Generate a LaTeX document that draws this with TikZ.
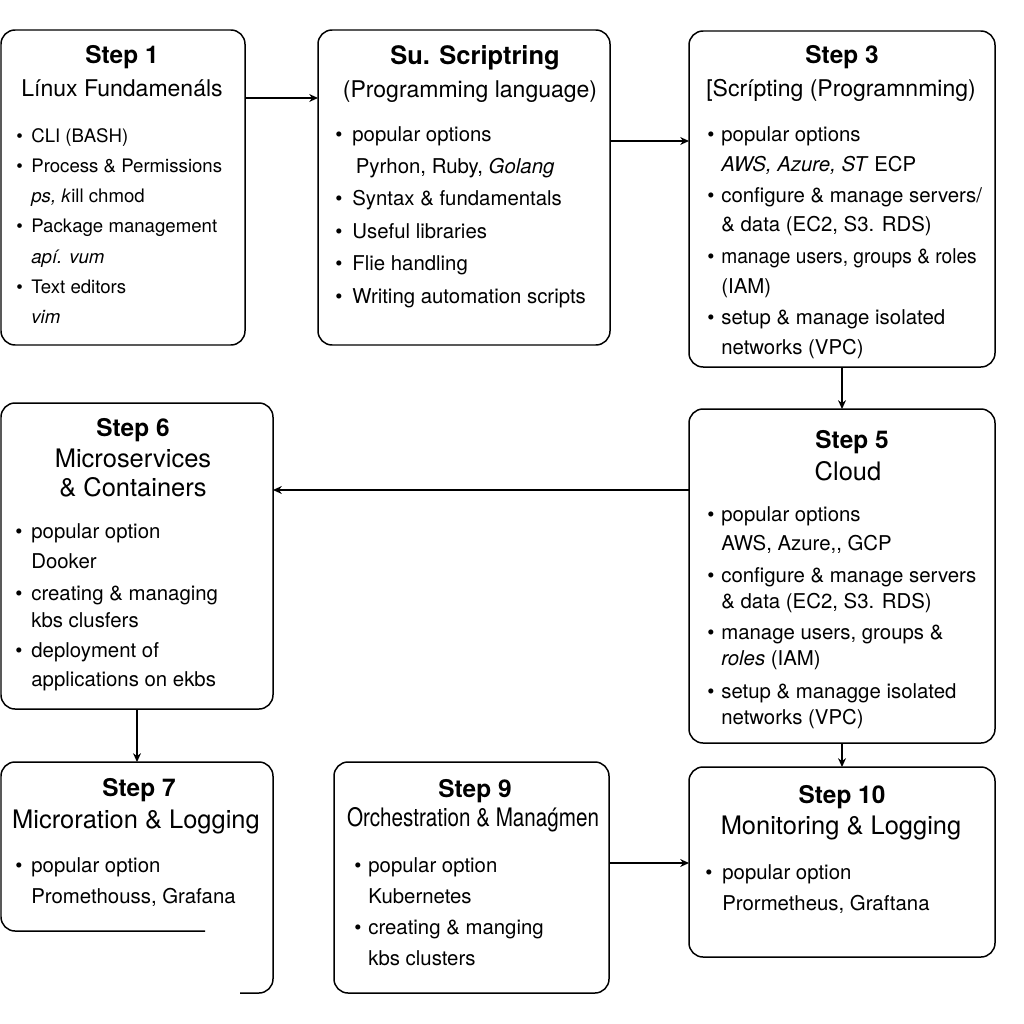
\documentclass[tikz,border=0pt]{standalone}
\usepackage{fontspec}
\setmainfont{TeX Gyre Heros}
\usetikzlibrary{positioning,fit,arrows.meta}

\newlength\px
\setlength\px{0.02cm}
\newcommand\bl[1][14\px]{\makebox[#1][l]{\textbullet}}

\tikzset{
  stepbox/.style={draw, line width=0.85pt, rounded corners=8pt, inner sep=0pt, outer sep=0pt},
  head/.style={anchor=base, inner sep=0pt, font=\bfseries\fontsize{13.9}{16}\selectfont},
  sub/.style={anchor=base, inner sep=0pt, font=\fontsize{14.5}{16}\selectfont},
  items/.style={anchor=base west, inner sep=0pt, font=\fontsize{11.6}{15}\selectfont},
  arr/.style={-{Stealth[length=5pt,width=4.5pt]}, line width=0.75pt}
}

\begin{document}
\begin{tikzpicture}[x=0.02cm, y=-0.02cm]
  \useasboundingbox (0,0) rectangle (1024,1024);

  % Step 1
  \node[stepbox, fit={(1,30) (245,345)}] (s1) {};
  \node[head] (s1h) at (122,64) {Step 1};
  \node[sub, font=\fontsize{13.1}{16}\selectfont] (s1s) at (122,96) {Línux Fundamenáls};
  \node[items, font=\fontsize{10.6}{17.25}\selectfont] (s1l) at (16,142) {\begin{tabular}[t]{@{}l@{}l@{}}
    \bl[15\px] & CLI (BASH)\\
    \bl & Process \& Permissions\\
    & \textit{ps, k}ill chmod\\
    \bl & Package management\\
    & \textit{apí. vum}\\
    \bl & Text editors\\
    & \textit{vim}
  \end{tabular}};

  % Step 2
  \node[stepbox, fit={(318,30) (610,345)}] (s2) {};
  \node[head, font=\bfseries\fontsize{14.5}{16}\selectfont] (s2h) at (475,65) {Su. Scriptring};
  \node[sub, font=\fontsize{13.1}{16}\selectfont] (s2s) at (470,97) {(Programming language)};
  \node[items, font=\fontsize{11.6}{18.45}\selectfont] (s2l) at (335,141) {\begin{tabular}[t]{@{}l@{}l@{}}
    \bl[17\px] & popular options\\
    & \hspace{2pt}Pyrhon, Ruby, \textit{Golang}\\
    \bl & Syntax \& fundamentals\\
    \bl & Useful libraries\\
    \bl & Flie handling\\
    \bl & Writing automation scripts
  \end{tabular}};

  % Step 3
  \node[stepbox, fit={(689,31) (995,367)}] (s3) {};
  \node[head] (s3h) at (842,64) {Step 3};
  \node[sub, font=\fontsize{13.1}{16}\selectfont] (s3s) at (841,96) {[Scrípting (Programnming)};
  \node[items, font=\fontsize{11.6}{16.85}\selectfont] (s3l) at (707,141) {\begin{tabular}[t]{@{}l@{}l@{}}
    \bl & popular options\\[0.5\px]
    & \textit{AWS, Azure,\ ST} ECP\\[1.5\px]
    \bl & configure \& manage servers/\\
    & \& data (EC2, S3. RDS)\\[2\px]
    \bl & \scalebox{0.94}[1]{manage users, groups \& roles}\\
    & (IAM)\\[2\px]
    \bl & setup \& manage isolated\\
    & networks (VPC)
  \end{tabular}};

  % Step 5
  \node[stepbox, fit={(689,409) (995,743)}] (s5) {};
  \node[head] (s5h) at (852,448) {Step 5};
  \node[sub] (s5s) at (848,480) {Cloud};
  \node[items] (s5l) at (707,521) {\begin{tabular}[t]{@{}l@{}l@{}}
    \bl & popular options\\[3\px]
    & AWS, Azure,{}, GCP\\[5.5\px]
    \bl & configure \& manage servers\\
    & \& data (EC2, S3. RDS)\\[4.5\px]
    \bl & manage users, groups \&\\
    & \textit{roles} (IAM)\\[6\px]
    \bl & setup \& managge isolated\\
    & networks (VPC)
  \end{tabular}};

  % Step 6
  \node[stepbox, fit={(1,403) (273,709)}] (s6) {};
  \node[head] (s6h) at (133,436) {Step 6};
  \node[sub] (s6s) at (133,467) {Microservices};
  \node[sub] (s6s2) at (133,496) {\& Containers};
  \node[items] (s6l) at (15,538) {\begin{tabular}[t]{@{}l@{}l@{}}
    \bl[16\px] & popular option\\[4.5\px]
    & Dooker\\[5.5\px]
    \bl & creating \& managing\\
    & kbs clusfers\\[4.5\px]
    \bl & deployment of\\[2.5\px]
    & applications on ekbs
  \end{tabular}};

  % Step 7 (open outline)
  \node[fit={(1,762) (273,931)}, inner sep=0pt, outer sep=0pt] (s7) {};
  \draw[line width=0.85pt, rounded corners=8pt] (205,931) -- (1,931) -- (1,762) -- (273,762) -- (273,993) -- (240,993);
  \node[head] (s7h) at (139,796) {Step 7};
  \node[sub] (s7s) at (136,828) {Microration \& Logging};
  \node[items, font=\fontsize{11.6}{17.65}\selectfont] (s7l) at (15,872) {\begin{tabular}[t]{@{}l@{}l@{}}
    \bl[16\px] & popular option\\
    & Promethouss, Grafana
  \end{tabular}};

  % Step 9
  \node[stepbox, fit={(334,762) (609,993)}] (s9) {};
  \node[head] (s9h) at (475,797) {Step 9};
  \node[sub] (s9s) at (473,826) {\scalebox{0.81}[1]{Orchestration \& Manaǵmen}};
  \node[items, font=\fontsize{11.6}{17.65}\selectfont] (s9l) at (354,872) {\begin{tabular}[t]{@{}l@{}l@{}}
    \bl & popular option\\
    & Kubernetes\\
    \bl & creating \& manging\\
    & kbs clusters
  \end{tabular}};

  % Step 10
  \node[stepbox, fit={(689,767) (995,957)}] (s10) {};
  \node[head] (s10h) at (842,803) {Step 10};
  \node[sub] (s10s) at (841,834) {Monitoring \& Logging};
  \node[items, font=\fontsize{11.6}{17.65}\selectfont] (s10l) at (705,879) {\begin{tabular}[t]{@{}l@{}l@{}}
    \bl[17\px] & popular option\\
    & Prormetheus, Graftana
  \end{tabular}};

  % connectors
  \draw[arr] (s1.east |- 0,98) -- (s2.west |- 0,98);
  \draw[arr] (s2.east |- 0,141) -- (s3.west |- 0,141);
  \draw[arr] (s3.south) -- (s5.north);
  \draw[arr] (s5.west |- 0,490) -- (s6.east |- 0,490);
  \draw[arr] (s6.south) -- (s7.north);
  \draw[arr] (s5.south) -- (s10.north);
  \draw[arr] (s9.east |- 0,863) -- (s10.west |- 0,863);
\end{tikzpicture}
\end{document}
